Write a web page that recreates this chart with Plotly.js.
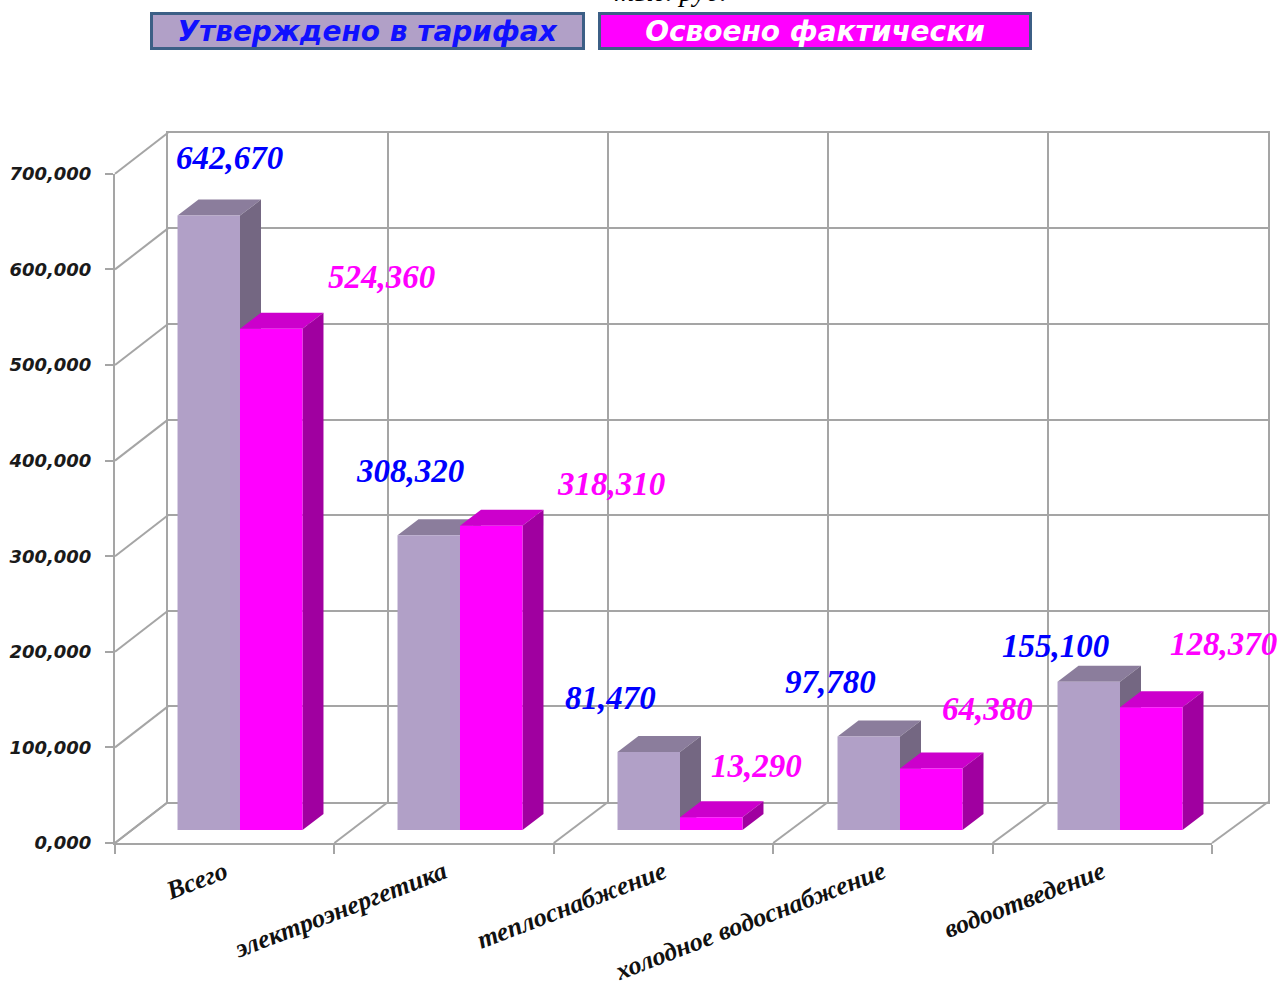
<!DOCTYPE html>
<html>
<head>
<meta charset="utf-8">
<script src="https://cdn.plot.ly/plotly-3.0.1.min.js"></script>
<style>html,body{margin:0;padding:0;background:#fff;}</style>
</head>
<body>
<div id="chart" style="width:1284px;height:989px;"></div>
<script>
// ---- data ----
const categories = ['Всего', 'электроэнергетика', 'теплоснабжение', 'холодное водоснабжение', 'водоотведение'];
const seriesNames = ['Утверждено в тарифах', 'Освоено фактически'];
const approved = [642.670, 308.320, 81.470, 97.780, 155.100];
const actual = [524.360, 318.310, 13.290, 64.380, 128.370];
const yTicks = [0, 100, 200, 300, 400, 500, 600, 700];
const unitText = 'тыс. руб.';

// ---- styling / geometry (pixels) ----
const W = 1284, H = 989;
const px = p => p / W;
const py = p => 1 - p / H;
const fmt = v => v.toFixed(3).replace('.', ',');
const gridColor = '#a5a5a5';
const colors = {
  front: ['#b1a0c7', '#ff00ff'],
  top: ['#8b7d9c', '#cc00cc'],
  side: ['#746782', '#a000a0'],
  label: ['#0000ff', '#ff00ff']
};
const pxPerUnit = 669.2 / 700;
const barW = 0.284;            // half of group width in category units
const depthX = 21 / 220;       // depth offset in category units
const depthY = 16 / pxPerUnit; // depth offset in value units
// manual label offsets (px) as placed in the original
const labelShift = [
  [[21, 58], [-19, 64], [-38, 54], [-38, 55], [-33, 36]],
  [[110, 52], [120, 42], [45, 51], [56, 59], [72, 63]]
];

const idx = categories.map((_, i) => i);
const series = [approved, actual];

const traces = series.map((vals, s) => ({
  type: 'bar',
  name: seriesNames[s],
  x: idx,
  y: vals,
  xaxis: 'x2',
  yaxis: 'y2',
  marker: { color: colors.front[s], line: { width: 0 } },
  hoverinfo: 'skip',
  showlegend: false
}));

const shapes = [];
// frame: left wall diagonals and floor diagonals (paper coords)
const frontX0 = 115, frontY0 = 843, backX0 = 168, backY0 = 802;
const frontTopY = 173.8, backTopY = 132.8;
yTicks.forEach((t) => {
  const fy = frontY0 - t * pxPerUnit, by = backY0 - t * pxPerUnit;
  shapes.push({ type: 'line', xref: 'paper', yref: 'paper', layer: 'below',
    x0: px(frontX0), y0: py(fy), x1: px(backX0), y1: py(by),
    line: { color: gridColor, width: 2 } });
});
for (let j = 0; j <= categories.length; j++) {
  const fx = frontX0 + j * (1212 - frontX0) / categories.length;
  const bx = backX0 + j * (1268 - backX0) / categories.length;
  shapes.push({ type: 'line', xref: 'paper', yref: 'paper', layer: 'below',
    x0: px(fx), y0: py(frontY0), x1: px(bx), y1: py(backY0),
    line: { color: gridColor, width: 2 } });
}
// 3D faces of bars (data coords)
series.forEach((vals, s) => {
  vals.forEach((v, i) => {
    const x0 = i - barW + s * barW, x1 = x0 + barW;
    shapes.push({ type: 'path', xref: 'x2', yref: 'y2', layer: 'below',
      path: `M${x0},${v} L${x1},${v} L${x1 + depthX},${v + depthY} L${x0 + depthX},${v + depthY} Z`,
      fillcolor: colors.top[s], line: { width: 0 } });
    shapes.push({ type: 'path', xref: 'x2', yref: 'y2', layer: 'below',
      path: `M${x1},0 L${x1},${v} L${x1 + depthX},${v + depthY} L${x1 + depthX},${depthY} Z`,
      fillcolor: colors.side[s], line: { width: 0 } });
  });
});

const annotations = [];
series.forEach((vals, s) => {
  vals.forEach((v, i) => {
    annotations.push({
      xref: 'x2', yref: 'y2', x: i - barW / 2 + s * barW, y: v,
      xshift: labelShift[s][i][0], yshift: labelShift[s][i][1],
      xanchor: 'center', yanchor: 'middle', showarrow: false,
      text: '<b><i>' + fmt(v) + '</i></b>',
      font: { family: 'Liberation Serif', size: 33, color: colors.label[s], weight: 'bold', style: 'italic' }
    });
  });
});
// legend boxes
const legendBoxes = [[150, 585], [598, 1032]];
const legendText = ['#1010ff', '#ffffff'];
seriesNames.forEach((n, s) => {
  const [a, b] = legendBoxes[s];
  annotations.push({
    xref: 'paper', yref: 'paper', x: px((a + b) / 2), y: py(31),
    xanchor: 'center', yanchor: 'middle', showarrow: false,
    width: b - a - 6, height: 32, borderpad: 0, borderwidth: 3,
    bordercolor: '#3c5f86', bgcolor: colors.front[s],
    text: n,
    font: { family: 'DejaVu Sans', size: 28, color: legendText[s], weight: 'bold', style: 'italic' }
  });
});
// unit caption at top (cut off by the top edge, as in the original)
annotations.push({
  xref: 'paper', yref: 'paper', x: px(612), y: py(9), xanchor: 'left', yanchor: 'bottom',
  showarrow: false, text: unitText,
  font: { family: 'Liberation Serif', size: 28, color: '#000', style: 'italic' }
});

const layout = {
  width: W, height: H,
  margin: { l: 0, r: 0, t: 0, b: 0 },
  paper_bgcolor: '#ffffff', plot_bgcolor: 'rgba(0,0,0,0)',
  showlegend: false,
  barmode: 'group', bargap: 0.432, bargroupgap: 0,
  // back wall
  xaxis: { domain: [px(168), px(1268)], range: [-0.5, 4.5], tickmode: 'array',
    tickvals: [-0.5, 0.5, 1.5, 2.5, 3.5, 4.5], showgrid: true, gridcolor: gridColor, gridwidth: 2,
    showticklabels: false, ticks: '', zeroline: false,
    showline: true, mirror: true, linecolor: gridColor, linewidth: 2, anchor: 'y', fixedrange: true },
  yaxis: { domain: [py(backY0), py(backTopY)], range: [0, 700], tickmode: 'array', tickvals: yTicks,
    showgrid: true, gridcolor: gridColor, gridwidth: 2, showticklabels: false, ticks: '',
    zeroline: false, showline: true, mirror: true, linecolor: gridColor, linewidth: 2,
    anchor: 'x', fixedrange: true },
  // bars
  xaxis2: { domain: [px(130), px(1230)], range: [-0.5, 4.5], visible: false, anchor: 'y2', fixedrange: true },
  yaxis2: { domain: [py(830), py(830 - 700 * pxPerUnit)], range: [0, 700], visible: false, anchor: 'x2', fixedrange: true },
  // front axes
  xaxis3: { domain: [px(frontX0), px(1212)], type: 'category', range: [-0.5, 4.5],
    categoryorder: 'array', categoryarray: categories, tickmode: 'array', tickvals: categories, ticktext: categories,
    tickson: 'boundaries', ticks: 'outside', ticklen: 9, tickwidth: 2, tickcolor: gridColor,
    showline: true, linecolor: gridColor, linewidth: 2, showgrid: false, zeroline: false,
    tickangle: -21, ticklabelstandoff: 2,
    tickfont: { family: 'Liberation Serif', size: 26, color: '#111', weight: 'bold', style: 'italic' },
    anchor: 'y3', fixedrange: true },
  yaxis3: { domain: [py(frontY0), py(frontTopY)], range: [0, 700], tickmode: 'array', tickvals: yTicks,
    ticktext: yTicks.map(fmt), ticks: 'outside', ticklen: 8, tickwidth: 2, tickcolor: gridColor,
    showline: true, linecolor: gridColor, linewidth: 2, showgrid: false, zeroline: false,
    ticklabelstandoff: 10,
    tickfont: { family: 'DejaVu Sans', size: 18, color: '#1a1a1a', weight: 'bold', style: 'italic' },
    anchor: 'x3', fixedrange: true },
  shapes: shapes,
  annotations: annotations
};

// invisible helper traces so the frame axes render
traces.push({ type: 'scatter', x: [categories[0]], y: [0], xaxis: 'x3', yaxis: 'y3',
  mode: 'markers', marker: { opacity: 0 }, hoverinfo: 'skip', showlegend: false });
traces.push({ type: 'scatter', x: [0], y: [0], xaxis: 'x', yaxis: 'y',
  mode: 'markers', marker: { opacity: 0 }, hoverinfo: 'skip', showlegend: false });

Plotly.newPlot('chart', traces, layout, { staticPlot: true, displayModeBar: false });
</script>
</body>
</html>
